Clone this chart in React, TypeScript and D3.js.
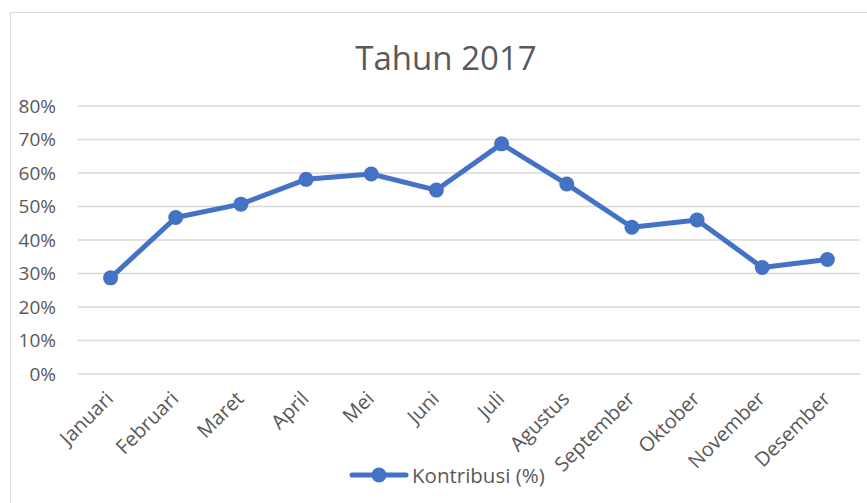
import { useEffect, useRef } from "react";
import * as d3 from "d3";

const months = [
  "Januari", "Februari", "Maret", "April", "Mei", "Juni",
  "Juli", "Agustus", "September", "Oktober", "November", "Desember",
];
const kontribusi = [0.287, 0.467, 0.507, 0.581, 0.597, 0.549, 0.687, 0.567, 0.438, 0.46, 0.318, 0.342];
const yTicks = [0, 0.1, 0.2, 0.3, 0.4, 0.5, 0.6, 0.7, 0.8];
const seriesName = "Kontribusi (%)";
const title = "Tahun 2017";

const App = () => {
  const svgRef = useRef<SVGSVGElement>(null);

  useEffect(() => {
    const w = 867;
    const h = 503;
    const blue = "#4472C4";
    const textColor = "#595959";
    const font = "'Open Sans', sans-serif";

    const svg = d3.select(svgRef.current);
    svg.selectAll("*").remove();
    svg.attr("width", w).attr("height", h).style("background", "#fff");

    // chart border
    svg.append("rect")
      .attr("x", 10.5).attr("y", 12.5)
      .attr("width", w).attr("height", h)
      .attr("fill", "none").attr("stroke", "#d9d9d9").attr("stroke-width", 1);

    svg.append("text")
      .attr("x", 446).attr("y", 70)
      .attr("text-anchor", "middle")
      .attr("font-family", font).attr("font-size", 33)
      .attr("fill", textColor)
      .text(title);

    // scales
    const xScale = d3.scaleBand<string>().domain(months).range([78, 860]);
    const cx = (m: string) => (xScale(m) as number) + xScale.bandwidth() / 2;
    const yScale = d3.scaleLinear().domain([0, 0.8]).range([374, 106]);

    // gridlines
    svg.append("g")
      .selectAll("line")
      .data(yTicks)
      .join("line")
      .attr("x1", 78).attr("x2", 860)
      .attr("y1", (d) => yScale(d)).attr("y2", (d) => yScale(d))
      .attr("stroke", "#d9d9d9").attr("stroke-width", 1.5);

    // y labels
    svg.append("g")
      .selectAll("text")
      .data(yTicks)
      .join("text")
      .attr("x", 56).attr("y", (d) => yScale(d) + 6.5)
      .attr("text-anchor", "end")
      .attr("font-family", font).attr("font-size", 19)
      .attr("fill", textColor)
      .text((d) => d3.format(".0%")(d));

    // x labels
    svg.append("g")
      .selectAll("text")
      .data(months)
      .join("text")
      .attr("transform", (d) => `translate(${cx(d) + 4},${400}) rotate(-45)`)
      .attr("text-anchor", "end")
      .attr("font-family", font).attr("font-size", 20)
      .attr("fill", textColor)
      .text((d) => d);

    // line
    const line = d3.line<number>()
      .x((d, i) => cx(months[i]))
      .y((d) => yScale(d));

    svg.append("path")
      .datum(kontribusi)
      .attr("d", line)
      .attr("fill", "none")
      .attr("stroke", blue)
      .attr("stroke-width", 5)
      .attr("stroke-linejoin", "round");

    svg.append("g")
      .selectAll("circle")
      .data(kontribusi)
      .join("circle")
      .attr("cx", (d, i) => cx(months[i]))
      .attr("cy", (d) => yScale(d))
      .attr("r", 7.5)
      .attr("fill", blue);

    // legend
    const lg = svg.append("g");
    lg.append("line")
      .attr("x1", 352).attr("x2", 406)
      .attr("y1", 475).attr("y2", 475)
      .attr("stroke", blue).attr("stroke-width", 5).attr("stroke-linecap", "round");
    lg.append("circle").attr("cx", 379).attr("cy", 475).attr("r", 7.5).attr("fill", blue);
    lg.append("text")
      .attr("x", 412).attr("y", 483)
      .attr("font-family", font).attr("font-size", 20.5)
      .attr("fill", textColor)
      .text(seriesName);
  }, []);

  return (
    <svg ref={svgRef} style={{ position: "absolute", left: 0, top: 0, display: "block" }}></svg>
  );
};

export default App;
